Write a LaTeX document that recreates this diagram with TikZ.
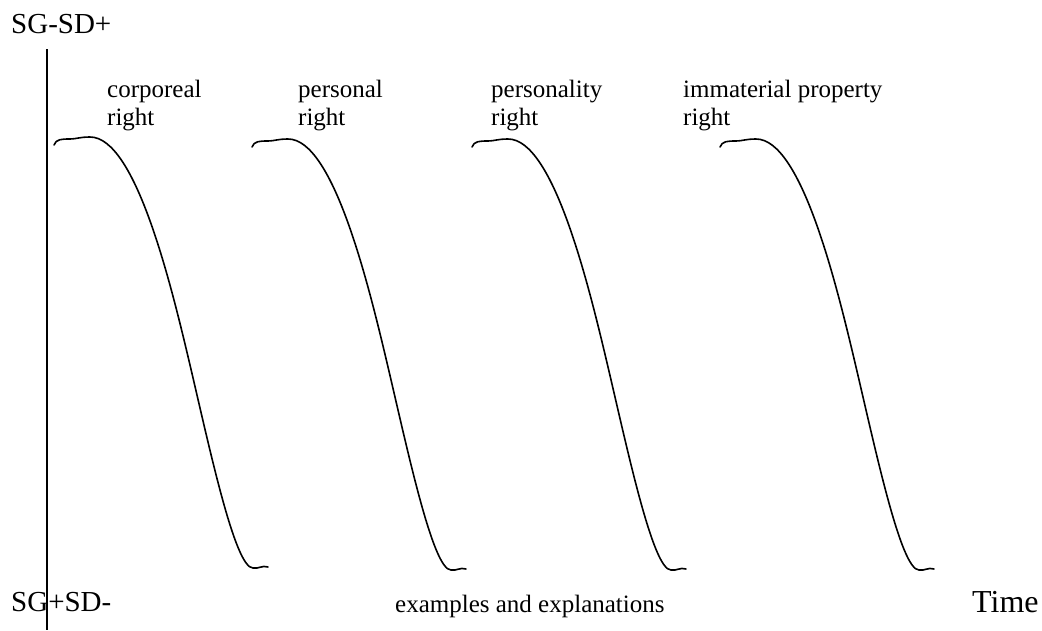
\documentclass[tikz,border=0pt]{standalone}
\usepackage{fontspec}
\setmainfont{Liberation Serif}
\tikzset{
  axisline/.style={line width=1.8pt, black},
  curveline/.style={line width=1.6pt, black, line cap=round, line join=round},
  bigtxt/.style={font=\fontsize{29}{32}\selectfont, inner sep=0pt, anchor=base west},
  timetxt/.style={font=\fontsize{32}{36}\selectfont, inner sep=0pt, anchor=base west},
  smalltxt/.style={font=\fontsize{25}{27.5}\selectfont, inner sep=0pt, anchor=base west},
  labeltxt/.style={font=\fontsize{25}{27.5}\selectfont, inner sep=0pt, anchor=north west, align=left},
  decay/.pic={
    \draw[curveline] (0,0) .. controls (2,-6) and (8,-6) .. (16,-6)
      .. controls (22,-6) and (26,-8) .. (36,-8)
      .. controls (81,-8) and (116,135) .. (136,220)
      .. controls (156,305) and (181,423) .. (199,423)
      .. controls (205,424) and (208,420) .. (214,422);
  }
}
\begin{document}
\begin{tikzpicture}[x=1pt, y=-1pt]
\useasboundingbox (0,0) rectangle (1042,630);
% axis
\coordinate (axtop) at (47,49);
\coordinate (axbot) at (47,630);
\draw[axisline] (axtop) -- (axbot);
% axis texts
\node[bigtxt] (top) at (11,33) {SG-SD+};
\node[bigtxt] (bot) at (11,611) {SG+SD-};
\node[timetxt] (time) at (972,612) {Time};
\node[smalltxt] (ex) at (395,612) {examples and explanations};
% curves
\pic (c1) at (54,145) {decay};
\pic (c2) at (252,147) {decay};
\pic (c3) at (472,147) {decay};
\pic (c4) at (720,147) {decay};
% labels
\node[labeltxt] (l1) at (107,80) {corporeal\\right};
\node[labeltxt] (l2) at (298,80) {personal\\right};
\node[labeltxt] (l3) at (491,80) {personality\\right};
\node[labeltxt] (l4) at (683,80) {immaterial property\\right};
\end{tikzpicture}
\end{document}
